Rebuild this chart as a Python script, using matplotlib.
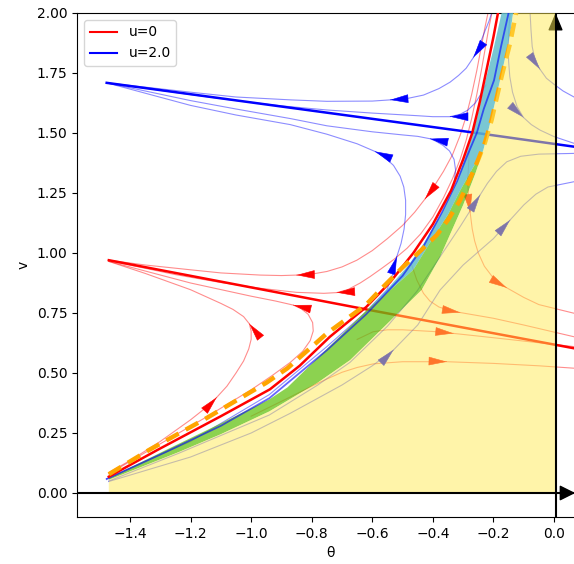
import matplotlib.pyplot as plt
from matplotlib.lines import Line2D
from matplotlib.patches import FancyArrowPatch

# ---- values, (theta, v) pairs ----
# band edges (cyan / green region and left edge of the yellow set)
band_left = [(-0.62, 0.76), (-0.55, 0.85), (-0.48, 0.95), (-0.43, 1.04), (-0.37, 1.17),
             (-0.32, 1.30), (-0.28, 1.45), (-0.255, 1.56), (-0.23, 1.70), (-0.20, 1.85),
             (-0.173, 2.0)]
green_top = [(-1.47, 0.062), (-1.28, 0.18), (-1.10, 0.29), (-0.94, 0.39), (-0.88, 0.44),
             (-0.75, 0.60), (-0.62, 0.76), (-0.54, 0.846), (-0.4645, 0.93), (-0.404, 1.054),
             (-0.35, 1.16), (-0.31, 1.26), (-0.27, 1.35), (-0.233, 1.43)]
edge_low = [(-1.47, 0.055), (-1.24, 0.17), (-1.10, 0.245), (-0.94, 0.34), (-0.88, 0.385),
            (-0.78, 0.46), (-0.673, 0.554), (-0.55, 0.706), (-0.437, 0.846), (-0.376, 0.984),
            (-0.30, 1.20), (-0.26, 1.33), (-0.233, 1.43)]
edge_high = [(-0.233, 1.43), (-0.215, 1.52), (-0.196, 1.62), (-0.178, 1.72), (-0.16, 1.82),
             (-0.145, 1.91), (-0.135, 2.0)]
dashed_curve = [(-1.47, 0.078), (-1.336, 0.18), (-1.15, 0.31), (-0.949, 0.46), (-0.88, 0.52),
                (-0.75, 0.665), (-0.62, 0.785), (-0.574, 0.846), (-0.50, 0.94), (-0.44, 1.01),
                (-0.387, 1.075), (-0.349, 1.14), (-0.31, 1.22), (-0.277, 1.31), (-0.25, 1.39),
                (-0.228, 1.46), (-0.206, 1.554), (-0.173, 1.735), (-0.145, 1.874), (-0.125, 2.0)]

# u = 0 (red)
red_sep = [(-1.47, 0.068), (-1.31, 0.179), (-1.10, 0.32), (-0.938, 0.432), (-0.84, 0.53),
           (-0.74, 0.651), (-0.62, 0.775), (-0.54, 0.88), (-0.4645, 1.0), (-0.40, 1.12),
           (-0.34, 1.26), (-0.30, 1.39), (-0.27, 1.50), (-0.245, 1.63), (-0.22, 1.78),
           (-0.20, 1.90), (-0.185, 2.0)]
red_line = [(-1.47, 0.97), (-0.62, 0.765), (0.066, 0.603)]
red_1 = [(-0.218, 2.0), (-0.228, 1.94), (-0.24, 1.86), (-0.255, 1.76), (-0.272, 1.66),
         (-0.29, 1.57), (-0.31, 1.49), (-0.335, 1.41), (-0.365, 1.34), (-0.395, 1.28),
         (-0.426, 1.225), (-0.46, 1.17), (-0.5, 1.115), (-0.55, 1.06), (-0.6, 1.01),
         (-0.651, 0.97), (-0.7, 0.942), (-0.75, 0.923), (-0.8, 0.912), (-0.85, 0.908),
         (-0.9, 0.906), (-0.97, 0.908), (-1.1, 0.917), (-1.2, 0.93), (-1.35, 0.95),
         (-1.47, 0.97)]
red_1_arrows = [10, 19]
red_2 = [(-0.205, 2.0), (-0.215, 1.94), (-0.226, 1.86), (-0.24, 1.76), (-0.255, 1.66),
         (-0.272, 1.56), (-0.29, 1.47), (-0.31, 1.39), (-0.335, 1.31), (-0.365, 1.23),
         (-0.4, 1.15), (-0.44, 1.08), (-0.485, 1.02), (-0.53, 0.972), (-0.57, 0.935),
         (-0.607, 0.902), (-0.64, 0.875), (-0.68, 0.848), (-0.717, 0.835), (-0.76, 0.832),
         (-0.85, 0.836), (-0.97, 0.853), (-1.1, 0.877), (-1.25, 0.91), (-1.47, 0.968)]
red_2_arrows = [18]
red_3 = [(-1.47, 0.08), (-1.3, 0.205), (-1.15, 0.315), (-1.0, 0.43), (-0.93, 0.49),
         (-0.87, 0.545), (-0.83, 0.59), (-0.805, 0.635), (-0.795, 0.675), (-0.797, 0.71),
         (-0.812, 0.745), (-0.835, 0.768), (-0.861, 0.783), (-0.92, 0.80), (-1.0, 0.82),
         (-1.2, 0.875), (-1.47, 0.965)]
red_3_arrows = [12]
red_4 = [(-1.47, 0.085), (-1.4, 0.135), (-1.3, 0.215), (-1.2, 0.305), (-1.15, 0.355),
         (-1.114, 0.398), (-1.08, 0.445), (-1.05, 0.5), (-1.025, 0.55), (-1.008, 0.6),
         (-1.0, 0.64), (-1.0, 0.675), (-1.006, 0.705), (-1.025, 0.735), (-1.06, 0.765),
         (-1.1, 0.79), (-1.2, 0.847), (-1.35, 0.915), (-1.47, 0.965)]
red_4_arrows = [5, 12]
red_5 = [(-0.47, 0.95), (-0.453, 0.8875), (-0.431, 0.832), (-0.41, 0.8), (-0.38, 0.775),
         (-0.343, 0.76), (-0.31, 0.752), (-0.2, 0.728), (-0.1, 0.7), (0.066, 0.651)]
red_5_arrows = [6]
red_6 = [(-0.65, 0.64), (-0.597, 0.672), (-0.55, 0.68), (-0.5, 0.68), (-0.4, 0.673),
         (-0.332, 0.665), (-0.2, 0.647), (-0.05, 0.626), (0.066, 0.61)]
red_6_arrows = [5]
red_7 = [(-1.0, 0.32), (-0.871, 0.40), (-0.8, 0.445), (-0.75, 0.475), (-0.7, 0.503),
         (-0.65, 0.523), (-0.597, 0.538), (-0.5, 0.547), (-0.354, 0.547), (-0.2, 0.54),
         (-0.05, 0.53), (0.066, 0.52)]
red_7_arrows = [8]
red_8 = [(-0.28, 1.42), (-0.285, 1.3), (-0.282, 1.23), (-0.277, 1.17), (-0.27, 1.1),
         (-0.262, 1.05), (-0.25, 1.0), (-0.23, 0.945), (-0.2, 0.895), (-0.175, 0.868),
         (-0.156, 0.855), (-0.1, 0.815), (-0.05, 0.785), (0.066, 0.749)]
red_8_arrows = [3, 10]

# u = 2.0 (blue)
blue_sep = [(-1.477, 0.058), (-1.28, 0.172), (-1.10, 0.28), (-0.94, 0.395), (-0.75, 0.595),
            (-0.62, 0.745), (-0.50, 0.905), (-0.43, 1.03), (-0.37, 1.17), (-0.32, 1.30),
            (-0.285, 1.41), (-0.255, 1.50), (-0.232, 1.60), (-0.198, 1.72), (-0.175, 1.86),
            (-0.15, 2.0)]
blue_line = [(-1.477, 1.709), (-0.255, 1.50), (0.066, 1.443)]
blue_1 = [(-0.206, 2.0), (-0.215, 1.965), (-0.228, 1.925), (-0.245, 1.87), (-0.266, 1.815),
          (-0.29, 1.77), (-0.315, 1.74), (-0.343, 1.712), (-0.38, 1.685), (-0.431, 1.658),
          (-0.48, 1.645), (-0.541, 1.638), (-0.6, 1.633), (-0.75, 1.632), (-0.87, 1.638),
          (-1.05, 1.65), (-1.2, 1.67), (-1.477, 1.709)]
blue_1_arrows = [4, 11]
blue_2 = [(-0.225, 1.70), (-0.24, 1.665), (-0.26, 1.625), (-0.285, 1.595), (-0.31, 1.578),
          (-0.343, 1.568), (-0.4, 1.568), (-0.45, 1.572), (-0.6, 1.583), (-0.75, 1.596),
          (-0.9, 1.613), (-1.05, 1.635), (-1.2, 1.66), (-1.477, 1.709)]
blue_2_arrows = [5]
blue_3 = [(-0.33, 1.29), (-0.325, 1.346), (-0.33, 1.39), (-0.345, 1.425), (-0.366, 1.448),
          (-0.39, 1.466), (-0.409, 1.476), (-0.45, 1.486), (-0.5, 1.492), (-0.6, 1.505),
          (-0.75, 1.53), (-0.87, 1.56), (-1.05, 1.6), (-1.2, 1.635), (-1.477, 1.709)]
blue_3_arrows = [6]
blue_4 = [(-1.477, 0.06), (-1.2, 0.215), (-0.94, 0.41), (-0.75, 0.61), (-0.62, 0.755),
          (-0.552, 0.846), (-0.53, 0.92), (-0.519, 0.985), (-0.505, 1.04), (-0.495, 1.1),
          (-0.49, 1.16), (-0.49, 1.22), (-0.496, 1.275), (-0.508, 1.32), (-0.53, 1.365),
          (-0.56, 1.4), (-0.591, 1.423), (-0.65, 1.455), (-0.75, 1.495), (-0.871, 1.535),
          (-1.05, 1.575), (-1.2, 1.615), (-1.477, 1.709)]
blue_4_arrows = [7, 16]
blue_5 = [(-0.079, 2.0), (-0.076, 1.93), (-0.072, 1.86), (-0.062, 1.8), (-0.046, 1.765),
          (-0.025, 1.728), (0.0, 1.703), (0.03, 1.675), (0.066, 1.65)]
blue_5_arrows = [4]
blue_6 = [(-0.145, 2.0), (-0.149, 1.93), (-0.151, 1.86), (-0.15, 1.8), (-0.146, 1.735),
          (-0.137, 1.67), (-0.122, 1.61), (-0.101, 1.565), (-0.075, 1.535), (-0.046, 1.512),
          (0.0, 1.485), (0.066, 1.457)]
blue_6_arrows = [7]
blue_7 = [(-1.47, 0.05), (-1.24, 0.165), (-0.94, 0.325), (-0.78, 0.45), (-0.673, 0.545),
          (-0.55, 0.695), (-0.453, 0.84), (-0.398, 0.943), (-0.31, 1.11), (-0.244, 1.242),
          (-0.22, 1.29), (-0.19, 1.34), (-0.156, 1.38), (-0.11, 1.403), (-0.05, 1.412),
          (0.066, 1.415)]
blue_7_arrows = [9]
blue_8 = [(-1.47, 0.048), (-1.2, 0.15), (-1.0, 0.25), (-0.871, 0.332), (-0.7, 0.45),
          (-0.6, 0.53), (-0.53, 0.596), (-0.45, 0.70), (-0.376, 0.846), (-0.3, 0.95),
          (-0.2, 1.06), (-0.145, 1.1375), (-0.1, 1.2), (-0.06, 1.245), (-0.02, 1.275),
          (0.066, 1.297)]
blue_8_arrows = [6, 11]

theta_axis = 0.005
theta_left = -1.47


def xs(pts):
    return [p[0] for p in pts]


def ys(pts):
    return [p[1] for p in pts]


def head(ax, pts, i, color, z):
    (x0, y0), (x1, y1) = pts[i], pts[i + 1]
    tip = (x0 + (x1 - x0) * 1e-3, y0 + (y1 - y0) * 1e-3)
    ax.add_patch(FancyArrowPatch((x0, y0), tip, arrowstyle='-|>,head_length=0.8,head_width=0.19',
                                 mutation_scale=15, color=color, lw=0.4,
                                 shrinkA=0, shrinkB=0, zorder=z))


def stream(ax, pts, color, arrows, lw=0.8, alpha=0.45, z=2):
    ax.plot(xs(pts), ys(pts), color=color, lw=lw, alpha=alpha, zorder=z)
    for i in arrows:
        head(ax, pts, i, color, z + 0.1)


fig = plt.figure(figsize=(5.74, 5.64), dpi=100)
ax = fig.add_axes([77 / 574, 47 / 564, 507.3 / 574, 504 / 564])

for pts, arr in [(red_1, red_1_arrows), (red_2, red_2_arrows), (red_3, red_3_arrows),
                 (red_4, red_4_arrows), (red_5, red_5_arrows), (red_6, red_6_arrows),
                 (red_7, red_7_arrows), (red_8, red_8_arrows)]:
    stream(ax, pts, 'red', arr)
for pts, arr in [(blue_1, blue_1_arrows), (blue_2, blue_2_arrows), (blue_3, blue_3_arrows),
                 (blue_4, blue_4_arrows), (blue_5, blue_5_arrows), (blue_6, blue_6_arrows),
                 (blue_7, blue_7_arrows), (blue_8, blue_8_arrows)]:
    stream(ax, pts, 'blue', arr)

ax.plot(xs(red_line), ys(red_line), color='red', lw=1.8, zorder=3)
ax.plot(xs(blue_line), ys(blue_line), color='blue', lw=1.8, zorder=3)

# cyan band and green band
cyan_poly = green_top[:6] + band_left + edge_high[::-1][:-1] + green_top[::-1]
ax.fill(xs(cyan_poly), ys(cyan_poly), color='#62becc', alpha=0.85, lw=0, zorder=3.4)
green_poly = green_top + edge_low[::-1]
ax.fill(xs(green_poly), ys(green_poly), color='#66c316', alpha=0.75, lw=0, zorder=3.5)

ax.plot(xs(blue_sep), ys(blue_sep), color='blue', lw=1.3, alpha=0.6, zorder=3.6)
ax.plot(xs(red_sep), ys(red_sep), color='red', lw=1.8, zorder=3.7)
ax.plot(xs(dashed_curve), ys(dashed_curve), color='orange', lw=3.2, dashes=(3.2, 1.8),
        zorder=3.8)

# axis arrows; the upper head sits under the yellow set
axis_x = [theta_left, theta_axis, 0.07]
axis_y = [0.0, 2.0]
ax.add_patch(FancyArrowPatch((axis_x[1], axis_y[1] - 0.05), (axis_x[1], axis_y[1]),
                             arrowstyle='-|>,head_length=0.9,head_width=0.38',
                             mutation_scale=12, color='black', shrinkA=0, shrinkB=0, zorder=4))

# yellow set, drawn over the streamlines
yellow_poly = [(theta_left, 0.0)] + edge_low + edge_high[1:] + [(theta_axis, 2.0), (theta_axis, 0.0)]
ax.fill(xs(yellow_poly), ys(yellow_poly), color='#ffeb55', alpha=0.5, lw=0, zorder=5)

ax.axhline(0, color='black', lw=1.5, zorder=6)
ax.axvline(theta_axis, color='black', lw=1.5, zorder=6)
ax.add_patch(FancyArrowPatch((axis_x[2] - 0.02, 0), (axis_x[2], 0),
                             arrowstyle='-|>,head_length=0.8,head_width=0.4',
                             mutation_scale=12, color='black', shrinkA=0, shrinkB=0, zorder=6))

ax.set_xlim(-1.575, 0.1)
ax.set_ylim(-0.1, 2.0)
ax.set_xticks([-1.4, -1.2, -1.0, -0.8, -0.6, -0.4, -0.2, 0.0])
ax.set_yticks([0.0, 0.25, 0.5, 0.75, 1.0, 1.25, 1.5, 1.75, 2.0])
ax.set_xlabel('θ')
ax.set_ylabel('v')

handles = [Line2D([], [], color='red'), Line2D([], [], color='blue')]
leg = ax.legend(handles, ['u=0', 'u=2.0'], loc='upper left')
leg.set_zorder(10)

fig.savefig('out.png', dpi=100)
